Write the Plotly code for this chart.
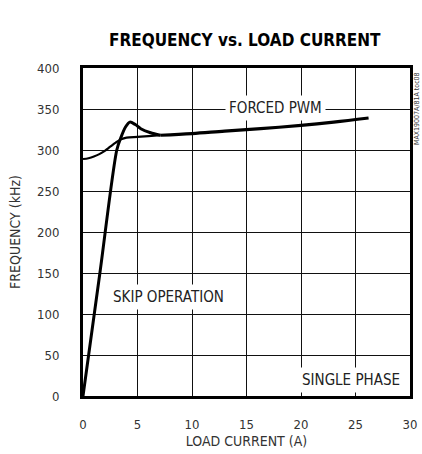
import plotly.graph_objects as go

# Forced PWM curve (before merging)
pwm_x = [0, 0.5, 1, 1.5, 2, 2.5, 3, 3.5, 4, 5, 6, 7.1]
pwm_y = [289, 290, 292, 295, 299, 304, 309, 313, 315, 316, 317, 318]
# Skip operation curve (before merging)
skip_x = [0, 1.55, 3.1, 3.5, 3.9, 4.3, 4.8, 5.3, 6.2, 7.1]
skip_y = [0, 150, 300, 316, 328, 334, 331, 326, 321, 318]
# Common curve after merge
merged_x = [7.1, 10, 13, 16.3, 20, 23, 26.2]
merged_y = [318, 320, 323, 326, 330, 334, 339]

x_ticks = [0, 5, 10, 15, 20, 25, 30]
y_ticks = [0, 50, 100, 150, 200, 250, 300, 350, 400]

NARROW = "DejaVu Sans Condensed, Liberation Sans Narrow, sans-serif"

fig = go.Figure()
fig.add_trace(go.Scatter(x=pwm_x, y=pwm_y, mode="lines",
                         line=dict(color="black", width=2.2, shape="spline"),
                         showlegend=False, hoverinfo="skip"))
fig.add_trace(go.Scatter(x=skip_x, y=skip_y, mode="lines",
                         line=dict(color="black", width=3, shape="spline", smoothing=0.8),
                         showlegend=False, hoverinfo="skip"))
fig.add_trace(go.Scatter(x=merged_x, y=merged_y, mode="lines",
                         line=dict(color="black", width=3.2, shape="spline"),
                         showlegend=False, hoverinfo="skip"))

ann_font = dict(family=NARROW, size=15, color="#222")
fig.add_annotation(x=17.7, y=351, text="FORCED PWM", showarrow=False,
                   bgcolor="white", font=ann_font, borderpad=3)
fig.add_annotation(x=7.8, y=121, text="SKIP OPERATION", showarrow=False,
                   bgcolor="white", font=ann_font, borderpad=3)
fig.add_annotation(x=24.6, y=19, text="SINGLE PHASE", showarrow=False,
                   bgcolor="white", font=ann_font, borderpad=3)

fig.add_annotation(xref="paper", yref="paper", x=1.0, xshift=7, y=0.875,
                   yanchor="middle", xanchor="center",
                   text="MAX19007A/81A toc08", textangle=-90, showarrow=False,
                   font=dict(family=NARROW, size=7, color="#333"))

fig.update_layout(
    width=422, height=454,
    margin=dict(l=83, r=12, t=68, b=58, autoexpand=False),
    paper_bgcolor="white", plot_bgcolor="white",
    title=dict(text="<b>FREQUENCY vs. LOAD CURRENT</b>", x=0.58, xanchor="center",
               y=0.912, yanchor="middle",
               font=dict(family=NARROW, size=17, color="black")),
)
fig.update_xaxes(range=[0, 30], tickvals=x_ticks, ticktext=[str(v) for v in x_ticks],
                 showgrid=True, gridcolor="#111", gridwidth=1.2,
                 showline=True, linecolor="black", linewidth=3, mirror=True,
                 zeroline=False, ticks="", ticklabelstandoff=14, automargin=False,
                 tickfont=dict(family=NARROW, size=13, color="#333"),
                 title=dict(text="LOAD CURRENT (A)", standoff=6,
                            font=dict(family=NARROW, size=14, color="#333")))
fig.update_yaxes(range=[0, 400], tickvals=y_ticks, ticktext=[str(v) for v in y_ticks],
                 showgrid=True, gridcolor="#111", gridwidth=1.2,
                 showline=True, linecolor="black", linewidth=3, mirror=True,
                 zeroline=False, ticks="", ticklabelstandoff=18, automargin=False,
                 tickfont=dict(family=NARROW, size=13, color="#333"),
                 title=dict(text="FREQUENCY (kHz)", standoff=14,
                            font=dict(family=NARROW, size=14, color="#333")))

fig.write_html("out.html", config={"displayModeBar": False},
               post_script="document.body.style.margin='0';document.body.style.padding='0';")
